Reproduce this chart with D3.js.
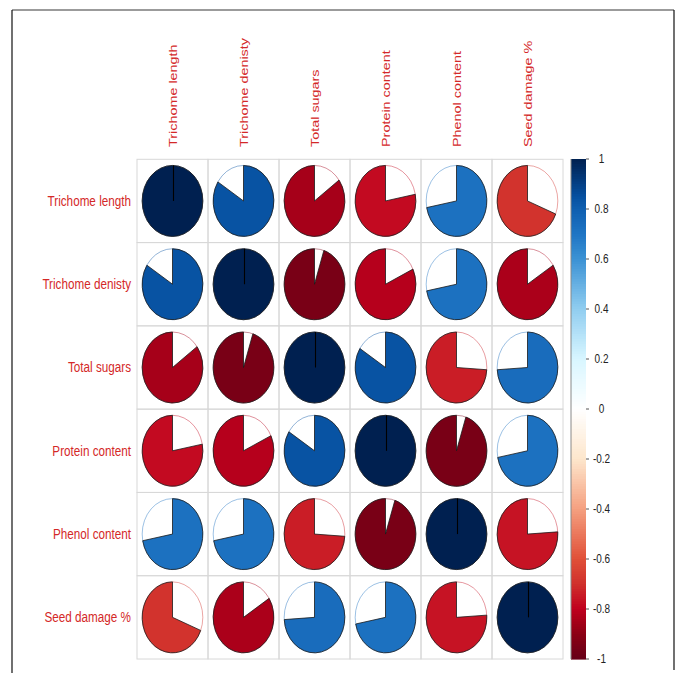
<!DOCTYPE html>
<html><head><meta charset="utf-8">
<script src="https://cdn.jsdelivr.net/npm/d3@7"></script>
<style>body{margin:0;background:#fff}svg{display:block}</style>
</head><body>
<script>
const vars = ["Trichome length","Trichome denisty","Total sugars","Protein content","Phenol content","Seed damage %"];
const rowTL  = [1.00, 0.84, -0.85, -0.78, 0.72, -0.69];
const rowTD  = [0.84, 1.00, -0.95, -0.82, 0.72, -0.84];
const rowTS  = [-0.85, -0.95, 1.00, 0.84, -0.74, 0.74];
const rowPC  = [-0.78, -0.82, 0.84, 1.00, -0.95, 0.72];
const rowPhC = [0.72, 0.72, -0.74, -0.95, 1.00, -0.76];
const rowSD  = [-0.69, -0.84, 0.74, 0.72, -0.76, 1.00];
const matrix = [rowTL,rowTD,rowTS,rowPC,rowPhC,rowSD];
const legendTicks = [1,0.8,0.6,0.4,0.2,0,-0.2,-0.4,-0.6,-0.8,-1];
const legendLabels = ["1","0.8","0.6","0.4","0.2","0","-0.2","-0.4","-0.6","-0.8","-1"];

const W=681,H=673;
const svg=d3.select("body").append("svg").attr("width",W).attr("height",H);

// frame
svg.append("line").attr("x1",12).attr("x2",674).attr("y1",10).attr("y2",10).attr("stroke","#7a7a7a").attr("stroke-width",1.5);
svg.append("line").attr("x1",12).attr("x2",12).attr("y1",10).attr("y2",673).attr("stroke","#111").attr("stroke-width",1.2);
svg.append("line").attr("x1",674).attr("x2",674).attr("y1",10).attr("y2",670).attr("stroke","#111").attr("stroke-width",1.2);

const color=d3.scaleLinear()
 .domain([-1,-0.9,-0.8,-0.7,-0.6,-0.4,-0.2,0,0.2,0.4,0.6,0.7,0.8,0.85,1])
 .range(["#660018","#8c0014","#c0001e","#d0302c","#e05038","#f5a080","#fde6cc","#ffffff","#d8f6ff","#90cdf0","#3b92d4","#1f75c4","#0f5fb0","#0650a0","#002050"])
 .clamp(true);

const x=d3.scaleBand().domain(vars).range([137,563]);
const y=d3.scaleBand().domain(vars).range([159.3,659]);
const sy=1.23;
const txtCol="#d42828";
const font="'Liberation Sans', Arial, sans-serif";

// grid
const g=svg.append("g");
vars.forEach((r,i)=>vars.forEach((c,j)=>{
  g.append("rect").attr("x",x(c)).attr("y",y(r)).attr("width",x.bandwidth()).attr("height",y.bandwidth())
   .attr("fill","none").attr("stroke","#d8d8d8").attr("stroke-width",1);
}));

// pies
const rx=x.bandwidth()*0.427, ry=y.bandwidth()*0.426;
const arc=d3.arc().innerRadius(0).outerRadius(rx);
vars.forEach((r,i)=>vars.forEach((c,j)=>{
  const v=matrix[i][j];
  const cx=x(c)+x.bandwidth()/2, cy=y(r)+y.bandwidth()/2;
  const pg=svg.append("g").attr("transform",`translate(${cx},${cy}) scale(1,${ry/rx})`);
  pg.append("circle").attr("r",rx).attr("fill","#fff").attr("stroke",color(v)).attr("stroke-opacity",0.55)
    .attr("stroke-width",0.8).attr("vector-effect","non-scaling-stroke");
  const a=Math.abs(v)*2*Math.PI;
  const d = v>=0 ? arc({startAngle:0,endAngle:a}) : arc({startAngle:-a,endAngle:0});
  pg.append("path").attr("d",d).attr("fill",color(v)).attr("stroke","#1a1a1a").attr("stroke-width",0.8)
    .attr("vector-effect","non-scaling-stroke");
  if (Math.abs(v)>=0.999) {
    svg.append("line").attr("x1",Math.round(cx)+0.5).attr("x2",Math.round(cx)+0.5).attr("y1",cy).attr("y2",cy-ry)
      .attr("stroke","#000").attr("stroke-width",1.1);
  }
}));

// left labels
vars.forEach(v=>{
  svg.append("text").attr("transform",`translate(131,${y(v)+y.bandwidth()/2}) scale(1,${sy})`)
   .attr("text-anchor","end").attr("dominant-baseline","central")
   .attr("font-family",font).attr("font-size",11.7).attr("fill",txtCol).text(v);
});
// top labels
vars.forEach(v=>{
  svg.append("text").attr("transform",`translate(${x(v)+x.bandwidth()/2+0.5},147) scale(1,${sy}) rotate(-90)`)
   .attr("text-anchor","start").attr("dominant-baseline","central")
   .attr("font-family",font).attr("font-size",11.7).attr("fill",txtCol).text(v);
});

// colorbar
const ly=d3.scaleLinear().domain([1,-1]).range([159,659]);
const N=200;
const steps=d3.range(N).map(k=>1-2*k/N);
svg.append("g").selectAll("rect").data(steps).join("rect")
 .attr("x",571).attr("width",15).attr("y",d=>ly(d)).attr("height",500/N+0.6)
 .attr("fill",d=>color(d-1/N));
svg.append("line").attr("x1",571).attr("x2",571).attr("y1",159).attr("y2",659).attr("stroke","#888").attr("stroke-width",1);
legendTicks.forEach((t,k)=>{
  svg.append("line").attr("x1",586).attr("x2",589).attr("y1",ly(t)).attr("y2",ly(t)).attr("stroke","#555").attr("stroke-width",1);
  svg.append("text").attr("transform",`translate(601.5,${ly(t)}) scale(1,1.25)`)
   .attr("text-anchor","middle").attr("dominant-baseline","central")
   .attr("font-family",font).attr("font-size",10).attr("fill","#222").text(legendLabels[k]);
});
</script>
</body></html>
